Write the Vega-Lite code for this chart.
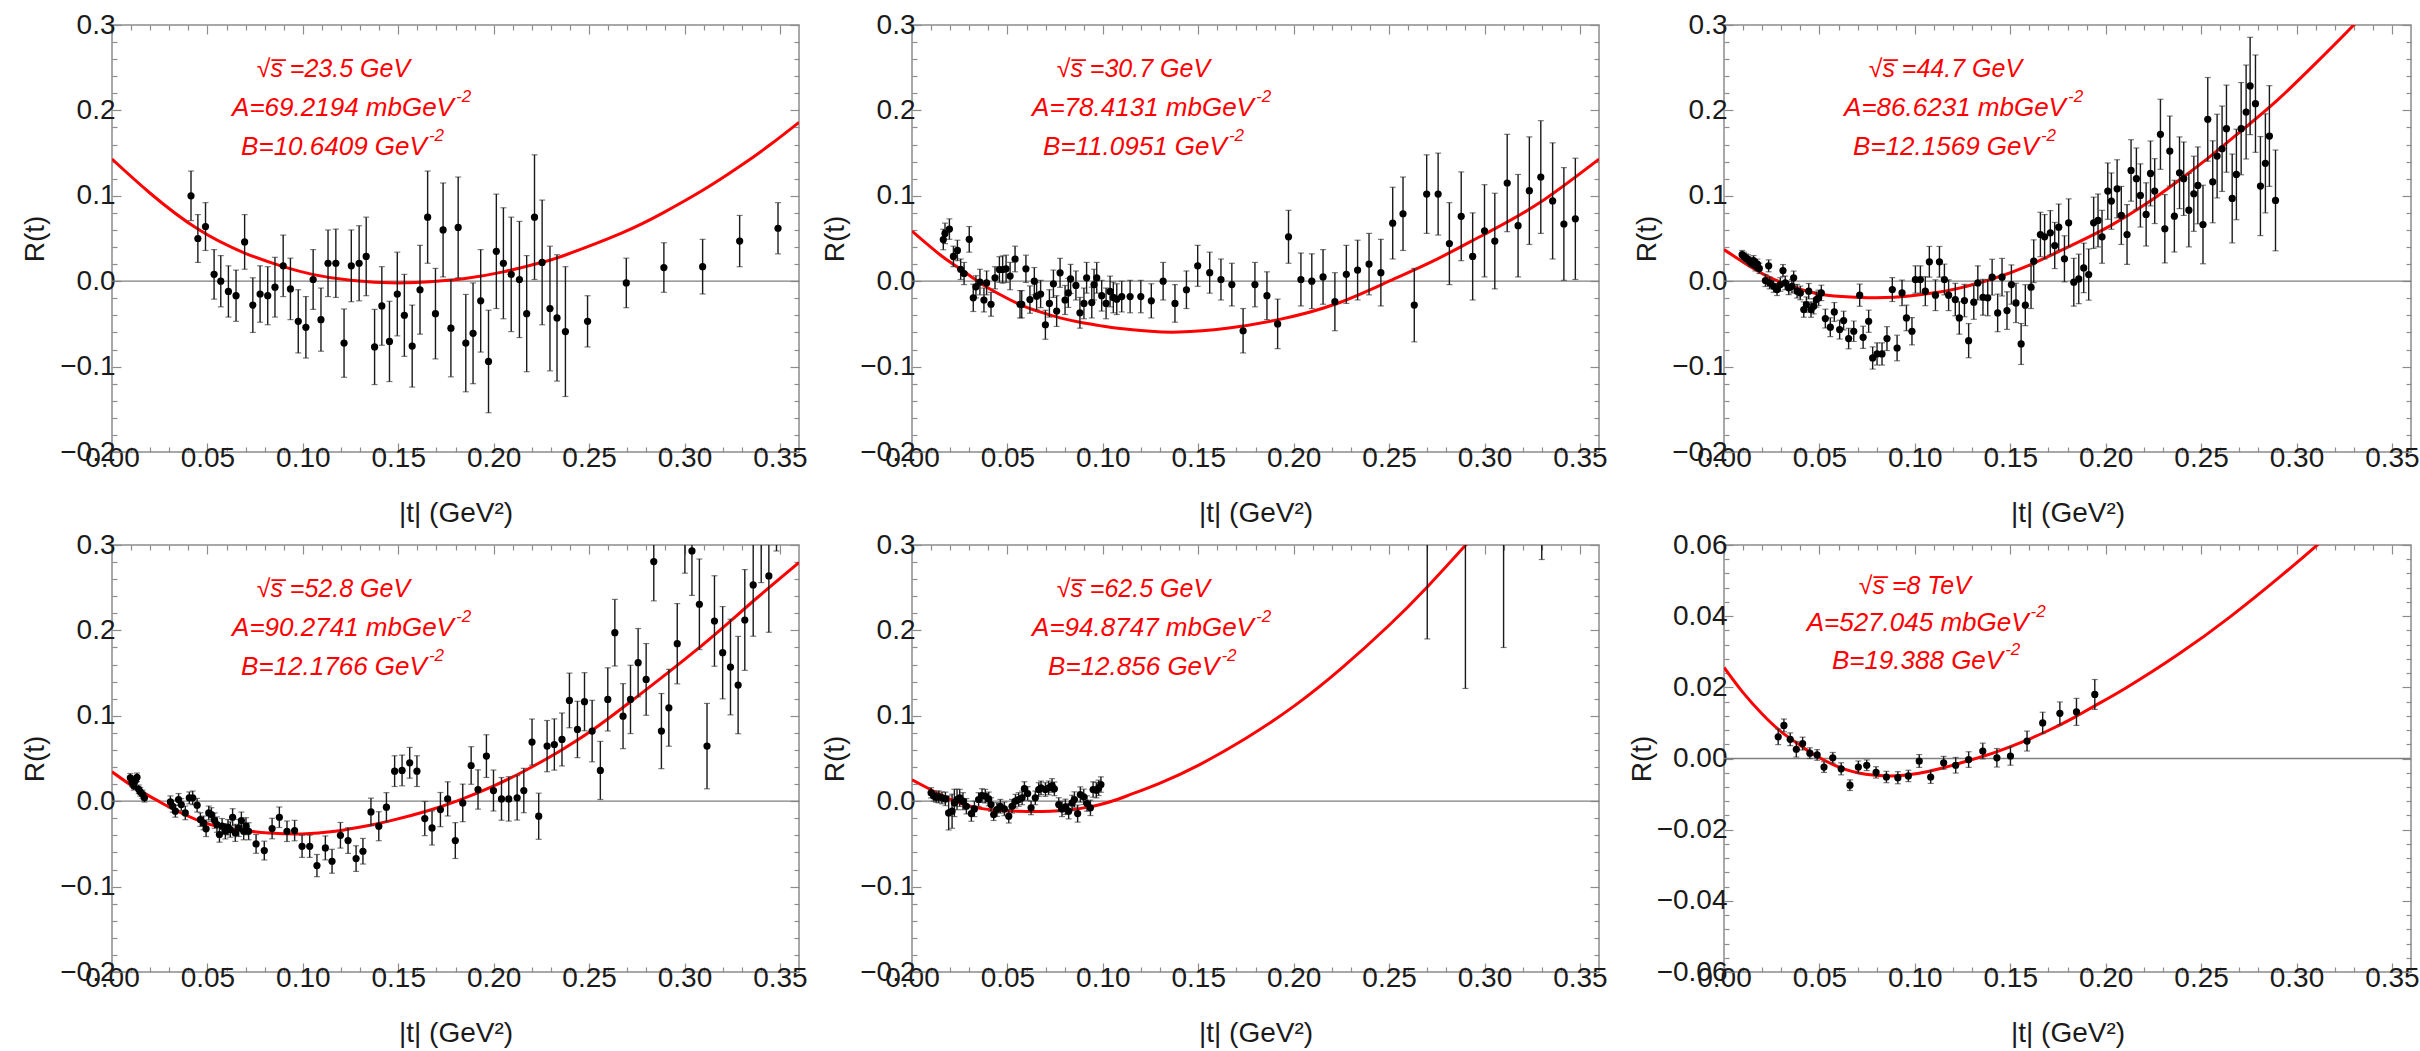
{
"$schema": "https://vega.github.io/schema/vega-lite/v6.json",
"background": "white",
"padding": {"left": 20, "top": 0, "right": 0, "bottom": 3},
"config": {
  "font": "Liberation Sans",
  "view": {"stroke": "#8c8c8c", "strokeWidth": 1.5},
  "axis": {"domain": false, "grid": false, "tickColor": "#8c8c8c", "tickWidth": 1.2, "labelFont": "Liberation Sans", "labelFontSize": 28, "labelColor": "#1a1a1a", "titleFont": "Liberation Sans", "titleFontSize": 28, "titleFontWeight": "normal", "titleColor": "#1a1a1a"},
  "text": {"font": "Liberation Sans", "fontStyle": "italic", "color": "#ff0000", "baseline": "middle"}
},
"datasets": {
"pts": [
{"p":1,"t":0.0414,"r":0.1,"e":0.029},{"p":1,"t":0.045,"r":0.05,"e":0.028},{"p":1,"t":0.049,"r":0.064,"e":0.028},{"p":1,"t":0.0535,"r":0.008,"e":0.029},{"p":1,"t":0.057,"r":0.0,"e":0.03},{"p":1,"t":0.061,"r":-0.012,"e":0.03},{"p":1,"t":0.065,"r":-0.017,"e":0.03},{"p":1,"t":0.0695,"r":0.046,"e":0.032},{"p":1,"t":0.0738,"r":-0.028,"e":0.032},{"p":1,"t":0.0776,"r":-0.015,"e":0.033},{"p":1,"t":0.0816,"r":-0.017,"e":0.034},{"p":1,"t":0.0854,"r":-0.007,"e":0.035},{"p":1,"t":0.0897,"r":0.018,"e":0.036},{"p":1,"t":0.0935,"r":-0.009,"e":0.036},{"p":1,"t":0.0976,"r":-0.047,"e":0.037},{"p":1,"t":0.1016,"r":-0.054,"e":0.036},{"p":1,"t":0.1054,"r":0.002,"e":0.035},{"p":1,"t":0.1095,"r":-0.045,"e":0.037},{"p":1,"t":0.1132,"r":0.021,"e":0.039},{"p":1,"t":0.1173,"r":0.021,"e":0.04},{"p":1,"t":0.1216,"r":-0.0725,"e":0.04},{"p":1,"t":0.1254,"r":0.018,"e":0.042},{"p":1,"t":0.1295,"r":0.021,"e":0.044},{"p":1,"t":0.1332,"r":0.029,"e":0.046},{"p":1,"t":0.1376,"r":-0.077,"e":0.044},{"p":1,"t":0.1414,"r":-0.029,"e":0.046},{"p":1,"t":0.1454,"r":-0.0705,"e":0.047},{"p":1,"t":0.1495,"r":-0.015,"e":0.049},{"p":1,"t":0.1532,"r":-0.04,"e":0.048},{"p":1,"t":0.1573,"r":-0.076,"e":0.048},{"p":1,"t":0.1614,"r":-0.01,"e":0.052},{"p":1,"t":0.1654,"r":0.075,"e":0.054},{"p":1,"t":0.1695,"r":-0.038,"e":0.053},{"p":1,"t":0.1735,"r":0.06,"e":0.055},{"p":1,"t":0.1776,"r":-0.055,"e":0.057},{"p":1,"t":0.1814,"r":0.063,"e":0.059},{"p":1,"t":0.1854,"r":-0.0725,"e":0.057},{"p":1,"t":0.1892,"r":-0.061,"e":0.059},{"p":1,"t":0.1932,"r":-0.023,"e":0.06},{"p":1,"t":0.1973,"r":-0.094,"e":0.06},{"p":1,"t":0.2014,"r":0.035,"e":0.067},{"p":1,"t":0.2051,"r":0.021,"e":0.065},{"p":1,"t":0.2092,"r":0.008,"e":0.067},{"p":1,"t":0.2135,"r":0.002,"e":0.068},{"p":1,"t":0.2173,"r":-0.038,"e":0.068},{"p":1,"t":0.2214,"r":0.075,"e":0.073},{"p":1,"t":0.2254,"r":0.022,"e":0.073},{"p":1,"t":0.2295,"r":-0.032,"e":0.073},{"p":1,"t":0.2332,"r":-0.043,"e":0.074},{"p":1,"t":0.2376,"r":-0.059,"e":0.076},{"p":1,"t":0.2492,"r":-0.047,"e":0.03},{"p":1,"t":0.2695,"r":-0.002,"e":0.029},{"p":1,"t":0.2892,"r":0.016,"e":0.029},{"p":1,"t":0.3095,"r":0.017,"e":0.032},{"p":1,"t":0.3289,"r":0.047,"e":0.03},{"p":1,"t":0.349,"r":0.062,"e":0.03},
{"p":2,"t":0.0164,"r":0.0488,"e":0.012},{"p":2,"t":0.0173,"r":0.056,"e":0.012},{"p":2,"t":0.0196,"r":0.061,"e":0.012},{"p":2,"t":0.0217,"r":0.029,"e":0.012},{"p":2,"t":0.0238,"r":0.036,"e":0.012},{"p":2,"t":0.0255,"r":0.014,"e":0.012},{"p":2,"t":0.0273,"r":0.009,"e":0.013},{"p":2,"t":0.03,"r":0.049,"e":0.015},{"p":2,"t":0.0321,"r":-0.0195,"e":0.016},{"p":2,"t":0.0335,"r":-0.0066,"e":0.013},{"p":2,"t":0.0356,"r":-0.001,"e":0.015},{"p":2,"t":0.0377,"r":-0.022,"e":0.014},{"p":2,"t":0.0391,"r":-0.002,"e":0.014},{"p":2,"t":0.0414,"r":-0.027,"e":0.014},{"p":2,"t":0.0435,"r":0.004,"e":0.013},{"p":2,"t":0.0458,"r":0.0137,"e":0.015},{"p":2,"t":0.0475,"r":0.0137,"e":0.016},{"p":2,"t":0.0493,"r":0.0145,"e":0.016},{"p":2,"t":0.0514,"r":0.006,"e":0.016},{"p":2,"t":0.054,"r":0.026,"e":0.015},{"p":2,"t":0.0566,"r":-0.027,"e":0.016},{"p":2,"t":0.0575,"r":-0.027,"e":0.016},{"p":2,"t":0.0597,"r":0.0145,"e":0.016},{"p":2,"t":0.0618,"r":-0.0215,"e":0.016},{"p":2,"t":0.0641,"r":0.0,"e":0.016},{"p":2,"t":0.0653,"r":-0.0176,"e":0.016},{"p":2,"t":0.0674,"r":-0.015,"e":0.016},{"p":2,"t":0.0699,"r":-0.051,"e":0.017},{"p":2,"t":0.072,"r":-0.026,"e":0.016},{"p":2,"t":0.0741,"r":-0.003,"e":0.016},{"p":2,"t":0.0758,"r":-0.035,"e":0.018},{"p":2,"t":0.0776,"r":0.0098,"e":0.017},{"p":2,"t":0.0802,"r":-0.022,"e":0.017},{"p":2,"t":0.0819,"r":-0.0137,"e":0.017},{"p":2,"t":0.0831,"r":0.0027,"e":0.017},{"p":2,"t":0.0859,"r":-0.005,"e":0.017},{"p":2,"t":0.088,"r":-0.037,"e":0.018},{"p":2,"t":0.0901,"r":-0.026,"e":0.018},{"p":2,"t":0.0915,"r":0.004,"e":0.018},{"p":2,"t":0.0942,"r":-0.025,"e":0.018},{"p":2,"t":0.0954,"r":-0.004,"e":0.018},{"p":2,"t":0.0968,"r":0.004,"e":0.018},{"p":2,"t":0.0994,"r":-0.017,"e":0.018},{"p":2,"t":0.1017,"r":-0.026,"e":0.018},{"p":2,"t":0.1038,"r":-0.012,"e":0.018},{"p":2,"t":0.1055,"r":-0.019,"e":0.018},{"p":2,"t":0.1073,"r":-0.021,"e":0.018},{"p":2,"t":0.1099,"r":-0.018,"e":0.018},{"p":2,"t":0.1143,"r":-0.018,"e":0.019},{"p":2,"t":0.1199,"r":-0.018,"e":0.019},{"p":2,"t":0.1254,"r":-0.023,"e":0.02},{"p":2,"t":0.1316,"r":0.0,"e":0.022},{"p":2,"t":0.1378,"r":-0.026,"e":0.022},{"p":2,"t":0.1438,"r":-0.01,"e":0.022},{"p":2,"t":0.1497,"r":0.018,"e":0.024},{"p":2,"t":0.156,"r":0.01,"e":0.024},{"p":2,"t":0.1619,"r":0.002,"e":0.024},{"p":2,"t":0.1676,"r":-0.004,"e":0.025},{"p":2,"t":0.1735,"r":-0.058,"e":0.026},{"p":2,"t":0.1797,"r":-0.004,"e":0.026},{"p":2,"t":0.186,"r":-0.017,"e":0.028},{"p":2,"t":0.1916,"r":-0.05,"e":0.029},{"p":2,"t":0.1973,"r":0.052,"e":0.031},{"p":2,"t":0.2038,"r":0.002,"e":0.031},{"p":2,"t":0.2095,"r":0.0,"e":0.032},{"p":2,"t":0.2154,"r":0.005,"e":0.032},{"p":2,"t":0.2216,"r":-0.024,"e":0.034},{"p":2,"t":0.2276,"r":0.008,"e":0.034},{"p":2,"t":0.2335,"r":0.013,"e":0.035},{"p":2,"t":0.2395,"r":0.02,"e":0.036},{"p":2,"t":0.2457,"r":0.01,"e":0.039},{"p":2,"t":0.2519,"r":0.068,"e":0.042},{"p":2,"t":0.2573,"r":0.079,"e":0.043},{"p":2,"t":0.2632,"r":-0.028,"e":0.043},{"p":2,"t":0.2697,"r":0.102,"e":0.046},{"p":2,"t":0.2757,"r":0.102,"e":0.048},{"p":2,"t":0.2816,"r":0.044,"e":0.048},{"p":2,"t":0.2878,"r":0.076,"e":0.052},{"p":2,"t":0.2938,"r":0.029,"e":0.051},{"p":2,"t":0.3,"r":0.059,"e":0.054},{"p":2,"t":0.3054,"r":0.047,"e":0.056},{"p":2,"t":0.3119,"r":0.115,"e":0.057},{"p":2,"t":0.3176,"r":0.065,"e":0.06},{"p":2,"t":0.3235,"r":0.106,"e":0.063},{"p":2,"t":0.3295,"r":0.122,"e":0.066},{"p":2,"t":0.3357,"r":0.094,"e":0.068},{"p":2,"t":0.3416,"r":0.067,"e":0.066},{"p":2,"t":0.3476,"r":0.073,"e":0.071},
{"p":3,"t":0.0095,"r":0.031,"e":0.005},{"p":3,"t":0.0105,"r":0.029,"e":0.005},{"p":3,"t":0.0115,"r":0.027,"e":0.005},{"p":3,"t":0.0125,"r":0.026,"e":0.005},{"p":3,"t":0.0135,"r":0.023,"e":0.005},{"p":3,"t":0.0145,"r":0.021,"e":0.005},{"p":3,"t":0.0155,"r":0.024,"e":0.006},{"p":3,"t":0.0165,"r":0.018,"e":0.006},{"p":3,"t":0.0175,"r":0.02,"e":0.006},{"p":3,"t":0.0185,"r":0.015,"e":0.006},{"p":3,"t":0.0217,"r":0.0008,"e":0.007},{"p":3,"t":0.0234,"r":0.018,"e":0.007},{"p":3,"t":0.0239,"r":-0.002,"e":0.007},{"p":3,"t":0.026,"r":-0.006,"e":0.007},{"p":3,"t":0.0278,"r":-0.0098,"e":0.007},{"p":3,"t":0.0295,"r":-0.0039,"e":0.008},{"p":3,"t":0.0309,"r":0.0125,"e":0.007},{"p":3,"t":0.0321,"r":-0.002,"e":0.008},{"p":3,"t":0.0339,"r":-0.0078,"e":0.008},{"p":3,"t":0.0356,"r":-0.0059,"e":0.008},{"p":3,"t":0.0365,"r":0.0039,"e":0.008},{"p":3,"t":0.0383,"r":-0.0117,"e":0.008},{"p":3,"t":0.04,"r":-0.0137,"e":0.008},{"p":3,"t":0.0418,"r":-0.0332,"e":0.009},{"p":3,"t":0.0432,"r":-0.0274,"e":0.009},{"p":3,"t":0.0444,"r":-0.0117,"e":0.009},{"p":3,"t":0.0456,"r":-0.0332,"e":0.009},{"p":3,"t":0.047,"r":-0.0293,"e":0.009},{"p":3,"t":0.0484,"r":-0.0215,"e":0.009},{"p":3,"t":0.0496,"r":-0.0195,"e":0.009},{"p":3,"t":0.051,"r":-0.0137,"e":0.009},{"p":3,"t":0.0531,"r":-0.0438,"e":0.011},{"p":3,"t":0.0557,"r":-0.0539,"e":0.011},{"p":3,"t":0.0578,"r":-0.036,"e":0.011},{"p":3,"t":0.0606,"r":-0.0567,"e":0.011},{"p":3,"t":0.0627,"r":-0.0461,"e":0.011},{"p":3,"t":0.0653,"r":-0.0672,"e":0.012},{"p":3,"t":0.068,"r":-0.0586,"e":0.012},{"p":3,"t":0.0711,"r":-0.0164,"e":0.013},{"p":3,"t":0.0729,"r":-0.0657,"e":0.013},{"p":3,"t":0.0758,"r":-0.0469,"e":0.013},{"p":3,"t":0.0779,"r":-0.0899,"e":0.013},{"p":3,"t":0.0802,"r":-0.0852,"e":0.013},{"p":3,"t":0.0828,"r":-0.0852,"e":0.013},{"p":3,"t":0.0854,"r":-0.0672,"e":0.014},{"p":3,"t":0.0882,"r":-0.0098,"e":0.014},{"p":3,"t":0.0907,"r":-0.0782,"e":0.015},{"p":3,"t":0.0933,"r":-0.0137,"e":0.015},{"p":3,"t":0.0956,"r":-0.043,"e":0.015},{"p":3,"t":0.0985,"r":-0.0586,"e":0.016},{"p":3,"t":0.1003,"r":0.002,"e":0.016},{"p":3,"t":0.1029,"r":0.002,"e":0.016},{"p":3,"t":0.1055,"r":-0.0117,"e":0.017},{"p":3,"t":0.1076,"r":0.0227,"e":0.018},{"p":3,"t":0.1108,"r":-0.0164,"e":0.018},{"p":3,"t":0.1129,"r":0.0227,"e":0.018},{"p":3,"t":0.1155,"r":0.002,"e":0.018},{"p":3,"t":0.1177,"r":-0.0164,"e":0.018},{"p":3,"t":0.1212,"r":-0.0215,"e":0.019},{"p":3,"t":0.1233,"r":-0.043,"e":0.019},{"p":3,"t":0.126,"r":-0.0227,"e":0.019},{"p":3,"t":0.1282,"r":-0.0696,"e":0.02},{"p":3,"t":0.1309,"r":-0.0246,"e":0.02},{"p":3,"t":0.133,"r":-0.002,"e":0.02},{"p":3,"t":0.1357,"r":-0.0188,"e":0.021},{"p":3,"t":0.1382,"r":-0.0195,"e":0.021},{"p":3,"t":0.1405,"r":0.0047,"e":0.021},{"p":3,"t":0.1434,"r":-0.0371,"e":0.022},{"p":3,"t":0.1457,"r":0.0047,"e":0.022},{"p":3,"t":0.1483,"r":-0.0344,"e":0.022},{"p":3,"t":0.1506,"r":-0.0039,"e":0.023},{"p":3,"t":0.153,"r":-0.0254,"e":0.023},{"p":3,"t":0.1557,"r":-0.0735,"e":0.024},{"p":3,"t":0.1579,"r":-0.0281,"e":0.024},{"p":3,"t":0.1609,"r":-0.007,"e":0.025},{"p":3,"t":0.1623,"r":0.0234,"e":0.025},{"p":3,"t":0.1658,"r":0.0547,"e":0.026},{"p":3,"t":0.168,"r":0.052,"e":0.026},{"p":3,"t":0.171,"r":0.0567,"e":0.026},{"p":3,"t":0.1733,"r":0.0418,"e":0.027},{"p":3,"t":0.1754,"r":0.0633,"e":0.027},{"p":3,"t":0.1784,"r":0.0262,"e":0.027},{"p":3,"t":0.1806,"r":0.0684,"e":0.028},{"p":3,"t":0.1833,"r":-0.0012,"e":0.028},{"p":3,"t":0.1859,"r":0.0027,"e":0.029},{"p":3,"t":0.1885,"r":0.0156,"e":0.029},{"p":3,"t":0.1911,"r":0.0078,"e":0.03},{"p":3,"t":0.1937,"r":0.0684,"e":0.03},{"p":3,"t":0.196,"r":0.0711,"e":0.031},{"p":3,"t":0.1981,"r":0.052,"e":0.031},{"p":3,"t":0.2011,"r":0.1055,"e":0.033},{"p":3,"t":0.203,"r":0.0938,"e":0.033},{"p":3,"t":0.206,"r":0.1082,"e":0.034},{"p":3,"t":0.2082,"r":0.077,"e":0.034},{"p":3,"t":0.2112,"r":0.0547,"e":0.035},{"p":3,"t":0.2133,"r":0.1297,"e":0.036},{"p":3,"t":0.2161,"r":0.12,"e":0.036},{"p":3,"t":0.2182,"r":0.1004,"e":0.037},{"p":3,"t":0.2212,"r":0.0782,"e":0.037},{"p":3,"t":0.2235,"r":0.1262,"e":0.038},{"p":3,"t":0.2257,"r":0.1055,"e":0.038},{"p":3,"t":0.2287,"r":0.172,"e":0.041},{"p":3,"t":0.231,"r":0.0614,"e":0.04},{"p":3,"t":0.2336,"r":0.1524,"e":0.041},{"p":3,"t":0.236,"r":0.0762,"e":0.042},{"p":3,"t":0.2387,"r":0.127,"e":0.042},{"p":3,"t":0.2409,"r":0.12,"e":0.043},{"p":3,"t":0.2436,"r":0.0832,"e":0.043},{"p":3,"t":0.2462,"r":0.1024,"e":0.044},{"p":3,"t":0.2483,"r":0.1122,"e":0.045},{"p":3,"t":0.251,"r":0.0664,"e":0.046},{"p":3,"t":0.2535,"r":0.1895,"e":0.049},{"p":3,"t":0.2561,"r":0.1164,"e":0.048},{"p":3,"t":0.2584,"r":0.1465,"e":0.049},{"p":3,"t":0.261,"r":0.1551,"e":0.05},{"p":3,"t":0.2633,"r":0.1786,"e":0.051},{"p":3,"t":0.2663,"r":0.0969,"e":0.052},{"p":3,"t":0.2685,"r":0.125,"e":0.053},{"p":3,"t":0.271,"r":0.1786,"e":0.054},{"p":3,"t":0.2736,"r":0.1981,"e":0.055},{"p":3,"t":0.2757,"r":0.2286,"e":0.057},{"p":3,"t":0.2785,"r":0.2079,"e":0.057},{"p":3,"t":0.2811,"r":0.1114,"e":0.058},{"p":3,"t":0.2837,"r":0.138,"e":0.058},{"p":3,"t":0.2858,"r":0.17,"e":0.059},{"p":3,"t":0.289,"r":0.0946,"e":0.059},
{"p":4,"t":0.0096,"r":0.0274,"e":0.005},{"p":4,"t":0.0105,"r":0.022,"e":0.005},{"p":4,"t":0.0114,"r":0.018,"e":0.005},{"p":4,"t":0.0122,"r":0.024,"e":0.005},{"p":4,"t":0.0131,"r":0.028,"e":0.005},{"p":4,"t":0.014,"r":0.014,"e":0.005},{"p":4,"t":0.0148,"r":0.011,"e":0.005},{"p":4,"t":0.016,"r":0.008,"e":0.005},{"p":4,"t":0.017,"r":0.004,"e":0.005},{"p":4,"t":0.0306,"r":-0.0008,"e":0.007},{"p":4,"t":0.0318,"r":-0.0059,"e":0.007},{"p":4,"t":0.0332,"r":-0.0117,"e":0.007},{"p":4,"t":0.0349,"r":0.002,"e":0.007},{"p":4,"t":0.0363,"r":-0.0039,"e":0.007},{"p":4,"t":0.0384,"r":-0.0137,"e":0.008},{"p":4,"t":0.0405,"r":0.0039,"e":0.007},{"p":4,"t":0.0423,"r":0.0039,"e":0.008},{"p":4,"t":0.0446,"r":-0.0047,"e":0.008},{"p":4,"t":0.0463,"r":-0.0215,"e":0.008},{"p":4,"t":0.048,"r":-0.0254,"e":0.008},{"p":4,"t":0.0493,"r":-0.0324,"e":0.009},{"p":4,"t":0.0507,"r":-0.0137,"e":0.008},{"p":4,"t":0.0521,"r":-0.0156,"e":0.008},{"p":4,"t":0.0538,"r":-0.0227,"e":0.009},{"p":4,"t":0.055,"r":-0.0274,"e":0.009},{"p":4,"t":0.0563,"r":-0.039,"e":0.009},{"p":4,"t":0.0577,"r":-0.0293,"e":0.009},{"p":4,"t":0.0594,"r":-0.0352,"e":0.009},{"p":4,"t":0.0608,"r":-0.0305,"e":0.009},{"p":4,"t":0.062,"r":-0.0332,"e":0.009},{"p":4,"t":0.0632,"r":-0.0188,"e":0.01},{"p":4,"t":0.0646,"r":-0.0371,"e":0.01},{"p":4,"t":0.0664,"r":-0.0313,"e":0.01},{"p":4,"t":0.0678,"r":-0.0227,"e":0.01},{"p":4,"t":0.069,"r":-0.0352,"e":0.01},{"p":4,"t":0.0702,"r":-0.0293,"e":0.01},{"p":4,"t":0.0716,"r":-0.0352,"e":0.01},{"p":4,"t":0.0755,"r":-0.05,"e":0.011},{"p":4,"t":0.0798,"r":-0.0578,"e":0.011},{"p":4,"t":0.0839,"r":-0.032,"e":0.012},{"p":4,"t":0.0877,"r":-0.0188,"e":0.012},{"p":4,"t":0.0917,"r":-0.0352,"e":0.012},{"p":4,"t":0.0957,"r":-0.0344,"e":0.012},{"p":4,"t":0.0996,"r":-0.0528,"e":0.013},{"p":4,"t":0.1036,"r":-0.0528,"e":0.013},{"p":4,"t":0.1074,"r":-0.0754,"e":0.013},{"p":4,"t":0.1118,"r":-0.0547,"e":0.014},{"p":4,"t":0.1153,"r":-0.0703,"e":0.014},{"p":4,"t":0.1197,"r":-0.0399,"e":0.015},{"p":4,"t":0.1237,"r":-0.0461,"e":0.015},{"p":4,"t":0.1279,"r":-0.0672,"e":0.015},{"p":4,"t":0.1315,"r":-0.0586,"e":0.015},{"p":4,"t":0.1357,"r":-0.0125,"e":0.016},{"p":4,"t":0.1398,"r":-0.0293,"e":0.017},{"p":4,"t":0.1438,"r":-0.007,"e":0.017},{"p":4,"t":0.1481,"r":0.0352,"e":0.018},{"p":4,"t":0.152,"r":0.036,"e":0.018},{"p":4,"t":0.156,"r":0.045,"e":0.018},{"p":4,"t":0.1598,"r":0.0352,"e":0.018},{"p":4,"t":0.1639,"r":-0.0203,"e":0.02},{"p":4,"t":0.1677,"r":-0.0313,"e":0.02},{"p":4,"t":0.1721,"r":-0.0098,"e":0.02},{"p":4,"t":0.1759,"r":0.0027,"e":0.02},{"p":4,"t":0.1799,"r":-0.0461,"e":0.021},{"p":4,"t":0.1838,"r":-0.002,"e":0.022},{"p":4,"t":0.1882,"r":0.0418,"e":0.022},{"p":4,"t":0.1918,"r":0.0137,"e":0.023},{"p":4,"t":0.1962,"r":0.0528,"e":0.025},{"p":4,"t":0.1999,"r":0.0125,"e":0.024},{"p":4,"t":0.2041,"r":0.0027,"e":0.025},{"p":4,"t":0.2079,"r":0.0027,"e":0.026},{"p":4,"t":0.2123,"r":0.0039,"e":0.026},{"p":4,"t":0.2158,"r":0.0125,"e":0.026},{"p":4,"t":0.2201,"r":0.0692,"e":0.027},{"p":4,"t":0.2236,"r":-0.0176,"e":0.027},{"p":4,"t":0.228,"r":0.0645,"e":0.03},{"p":4,"t":0.2318,"r":0.0664,"e":0.03},{"p":4,"t":0.2358,"r":0.0723,"e":0.031},{"p":4,"t":0.2397,"r":0.118,"e":0.032},{"p":4,"t":0.2439,"r":0.084,"e":0.033},{"p":4,"t":0.2476,"r":0.1165,"e":0.034},{"p":4,"t":0.2516,"r":0.0821,"e":0.036},{"p":4,"t":0.2559,"r":0.036,"e":0.034},{"p":4,"t":0.2598,"r":0.1192,"e":0.037},{"p":4,"t":0.2635,"r":0.1973,"e":0.039},{"p":4,"t":0.2678,"r":0.0996,"e":0.038},{"p":4,"t":0.2717,"r":0.1192,"e":0.04},{"p":4,"t":0.2757,"r":0.1622,"e":0.04},{"p":4,"t":0.2799,"r":0.1426,"e":0.042},{"p":4,"t":0.2839,"r":0.2806,"e":0.046},{"p":4,"t":0.2879,"r":0.0821,"e":0.044},{"p":4,"t":0.2918,"r":0.1094,"e":0.045},{"p":4,"t":0.2962,"r":0.1844,"e":0.047},{"p":4,"t":0.3002,"r":0.33,"e":0.063},{"p":4,"t":0.3039,"r":0.293,"e":0.052},{"p":4,"t":0.3078,"r":0.2306,"e":0.053},{"p":4,"t":0.3118,"r":0.0645,"e":0.05},{"p":4,"t":0.3157,"r":0.211,"e":0.053},{"p":4,"t":0.32,"r":0.1739,"e":0.054},{"p":4,"t":0.3241,"r":0.1571,"e":0.056},{"p":4,"t":0.3281,"r":0.136,"e":0.057},{"p":4,"t":0.3316,"r":0.2122,"e":0.059},{"p":4,"t":0.336,"r":0.2532,"e":0.06},{"p":4,"t":0.3402,"r":0.33,"e":0.074},{"p":4,"t":0.3442,"r":0.2638,"e":0.066},{"p":4,"t":0.3482,"r":0.37,"e":0.077},
{"p":5,"t":0.01,"r":0.0098,"e":0.006},{"p":5,"t":0.0114,"r":0.006,"e":0.006},{"p":5,"t":0.0127,"r":0.0047,"e":0.006},{"p":5,"t":0.014,"r":0.0051,"e":0.007},{"p":5,"t":0.0157,"r":0.0039,"e":0.007},{"p":5,"t":0.0175,"r":0.0027,"e":0.008},{"p":5,"t":0.0192,"r":-0.0137,"e":0.02},{"p":5,"t":0.021,"r":-0.0117,"e":0.02},{"p":5,"t":0.0222,"r":-0.002,"e":0.016},{"p":5,"t":0.0236,"r":0.002,"e":0.012},{"p":5,"t":0.025,"r":0.0039,"e":0.01},{"p":5,"t":0.0267,"r":0.0,"e":0.01},{"p":5,"t":0.0285,"r":-0.0059,"e":0.009},{"p":5,"t":0.0311,"r":-0.0145,"e":0.009},{"p":5,"t":0.0327,"r":-0.009,"e":0.009},{"p":5,"t":0.0349,"r":0.002,"e":0.008},{"p":5,"t":0.0367,"r":0.0066,"e":0.008},{"p":5,"t":0.0384,"r":0.0059,"e":0.008},{"p":5,"t":0.0402,"r":0.0027,"e":0.008},{"p":5,"t":0.0414,"r":-0.0039,"e":0.008},{"p":5,"t":0.0428,"r":-0.0156,"e":0.007},{"p":5,"t":0.0445,"r":-0.0098,"e":0.008},{"p":5,"t":0.0463,"r":-0.0059,"e":0.008},{"p":5,"t":0.0484,"r":-0.009,"e":0.008},{"p":5,"t":0.0507,"r":-0.0176,"e":0.008},{"p":5,"t":0.0524,"r":-0.0059,"e":0.008},{"p":5,"t":0.0542,"r":0.0,"e":0.008},{"p":5,"t":0.0559,"r":0.002,"e":0.008},{"p":5,"t":0.0577,"r":0.0039,"e":0.008},{"p":5,"t":0.0589,"r":0.0148,"e":0.008},{"p":5,"t":0.0606,"r":0.009,"e":0.008},{"p":5,"t":0.0624,"r":-0.0078,"e":0.008},{"p":5,"t":0.0646,"r":0.0039,"e":0.008},{"p":5,"t":0.0664,"r":0.0137,"e":0.008},{"p":5,"t":0.0676,"r":0.0156,"e":0.008},{"p":5,"t":0.0699,"r":0.0137,"e":0.008},{"p":5,"t":0.0716,"r":0.0156,"e":0.008},{"p":5,"t":0.0734,"r":0.0184,"e":0.008},{"p":5,"t":0.0746,"r":0.0145,"e":0.008},{"p":5,"t":0.0769,"r":-0.0039,"e":0.008},{"p":5,"t":0.0786,"r":-0.009,"e":0.009},{"p":5,"t":0.0804,"r":-0.0066,"e":0.009},{"p":5,"t":0.0821,"r":-0.0117,"e":0.009},{"p":5,"t":0.0839,"r":-0.002,"e":0.009},{"p":5,"t":0.0851,"r":0.002,"e":0.009},{"p":5,"t":0.0868,"r":-0.0145,"e":0.01},{"p":5,"t":0.0882,"r":0.0078,"e":0.009},{"p":5,"t":0.09,"r":0.0051,"e":0.009},{"p":5,"t":0.0917,"r":-0.0027,"e":0.009},{"p":5,"t":0.0935,"r":-0.0078,"e":0.009},{"p":5,"t":0.0949,"r":0.0137,"e":0.009},{"p":5,"t":0.0966,"r":0.0129,"e":0.009},{"p":5,"t":0.0978,"r":0.0156,"e":0.009},{"p":5,"t":0.099,"r":0.0195,"e":0.009},{"p":5,"t":0.27,"r":0.4,"e":0.21},{"p":5,"t":0.29,"r":0.45,"e":0.318},{"p":5,"t":0.31,"r":0.5,"e":0.32},{"p":5,"t":0.33,"r":0.55,"e":0.267},
{"p":6,"t":0.0284,"r":0.0061,"e":0.0022},{"p":6,"t":0.0314,"r":0.0093,"e":0.0018},{"p":6,"t":0.0347,"r":0.0054,"e":0.0018},{"p":6,"t":0.0379,"r":0.0026,"e":0.0022},{"p":6,"t":0.0412,"r":0.0042,"e":0.0018},{"p":6,"t":0.045,"r":0.0015,"e":0.0015},{"p":6,"t":0.0488,"r":0.001,"e":0.0015},{"p":6,"t":0.0524,"r":-0.0024,"e":0.0015},{"p":6,"t":0.057,"r":0.0002,"e":0.0015},{"p":6,"t":0.0614,"r":-0.0029,"e":0.0017},{"p":6,"t":0.066,"r":-0.0075,"e":0.0015},{"p":6,"t":0.0704,"r":-0.0024,"e":0.0017},{"p":6,"t":0.0748,"r":-0.0019,"e":0.0015},{"p":6,"t":0.0797,"r":-0.0039,"e":0.0016},{"p":6,"t":0.0851,"r":-0.0052,"e":0.0016},{"p":6,"t":0.0911,"r":-0.0054,"e":0.0017},{"p":6,"t":0.0966,"r":-0.0049,"e":0.0016},{"p":6,"t":0.1023,"r":-0.0007,"e":0.0018},{"p":6,"t":0.1083,"r":-0.0052,"e":0.0018},{"p":6,"t":0.1151,"r":-0.0012,"e":0.0018},{"p":6,"t":0.1214,"r":-0.0019,"e":0.0022},{"p":6,"t":0.1282,"r":-0.0003,"e":0.0022},{"p":6,"t":0.1356,"r":0.0021,"e":0.0022},{"p":6,"t":0.143,"r":0.0002,"e":0.0026},{"p":6,"t":0.1501,"r":0.0007,"e":0.0026},{"p":6,"t":0.1588,"r":0.0049,"e":0.0028},{"p":6,"t":0.167,"r":0.01,"e":0.003},{"p":6,"t":0.176,"r":0.0127,"e":0.0032},{"p":6,"t":0.1847,"r":0.0131,"e":0.0038},{"p":6,"t":0.1943,"r":0.018,"e":0.0042}
],
"fit": [
{"p":1,"t":0,"r":0.143},{"p":1,"t":0.02,"r":0.103},{"p":1,"t":0.045,"r":0.061},{"p":1,"t":0.0695,"r":0.033},{"p":1,"t":0.0897,"r":0.017},{"p":1,"t":0.105,"r":0.008},{"p":1,"t":0.125,"r":0.001},{"p":1,"t":0.15,"r":-0.002},{"p":1,"t":0.17,"r":0.0},{"p":1,"t":0.185,"r":0.0032},{"p":1,"t":0.205,"r":0.0109},{"p":1,"t":0.2254,"r":0.0222},{"p":1,"t":0.2376,"r":0.0307},{"p":1,"t":0.267,"r":0.0563},{"p":1,"t":0.289,"r":0.0803},{"p":1,"t":0.31,"r":0.107},{"p":1,"t":0.329,"r":0.1345},{"p":1,"t":0.345,"r":0.16},{"p":1,"t":0.36,"r":0.186},
{"p":2,"t":0,"r":0.0587},{"p":2,"t":0.0147,"r":0.031},{"p":2,"t":0.0252,"r":0.0145},{"p":2,"t":0.0357,"r":-0.002},{"p":2,"t":0.0461,"r":-0.0156},{"p":2,"t":0.0566,"r":-0.0274},{"p":2,"t":0.0671,"r":-0.036},{"p":2,"t":0.0776,"r":-0.043},{"p":2,"t":0.088,"r":-0.048},{"p":2,"t":0.0985,"r":-0.052},{"p":2,"t":0.109,"r":-0.0555},{"p":2,"t":0.125,"r":-0.0586},{"p":2,"t":0.14,"r":-0.0595},{"p":2,"t":0.165,"r":-0.055},{"p":2,"t":0.192,"r":-0.045},{"p":2,"t":0.2216,"r":-0.027},{"p":2,"t":0.25,"r":0.0},{"p":2,"t":0.2735,"r":0.024},{"p":2,"t":0.3,"r":0.055},{"p":2,"t":0.3276,"r":0.09},{"p":2,"t":0.36,"r":0.143},
{"p":3,"t":0,"r":0.037},{"p":3,"t":0.012,"r":0.0195},{"p":3,"t":0.0225,"r":0.006},{"p":3,"t":0.033,"r":-0.004},{"p":3,"t":0.0435,"r":-0.0117},{"p":3,"t":0.054,"r":-0.0164},{"p":3,"t":0.0715,"r":-0.019},{"p":3,"t":0.089,"r":-0.0188},{"p":3,"t":0.1064,"r":-0.0148},{"p":3,"t":0.1239,"r":-0.0078},{"p":3,"t":0.1413,"r":0.0031},{"p":3,"t":0.1588,"r":0.0176},{"p":3,"t":0.1859,"r":0.046},{"p":3,"t":0.2033,"r":0.066},{"p":3,"t":0.2208,"r":0.09},{"p":3,"t":0.2383,"r":0.118},{"p":3,"t":0.2558,"r":0.148},{"p":3,"t":0.2732,"r":0.18},{"p":3,"t":0.29,"r":0.212},{"p":3,"t":0.31,"r":0.255},{"p":3,"t":0.33,"r":0.3},{"p":3,"t":0.34,"r":0.325},
{"p":4,"t":0,"r":0.0344},{"p":4,"t":0.0122,"r":0.0156},{"p":4,"t":0.0236,"r":0.001},{"p":4,"t":0.0297,"r":-0.0065},{"p":4,"t":0.0472,"r":-0.0242},{"p":4,"t":0.0646,"r":-0.0332},{"p":4,"t":0.0821,"r":-0.0371},{"p":4,"t":0.0996,"r":-0.0383},{"p":4,"t":0.117,"r":-0.0352},{"p":4,"t":0.1345,"r":-0.0285},{"p":4,"t":0.1467,"r":-0.0225},{"p":4,"t":0.1642,"r":-0.012},{"p":4,"t":0.1817,"r":0.001},{"p":4,"t":0.1992,"r":0.017},{"p":4,"t":0.2166,"r":0.036},{"p":4,"t":0.2341,"r":0.058},{"p":4,"t":0.2516,"r":0.083},{"p":4,"t":0.2691,"r":0.112},{"p":4,"t":0.2865,"r":0.142},{"p":4,"t":0.304,"r":0.173},{"p":4,"t":0.3215,"r":0.206},{"p":4,"t":0.339,"r":0.24},{"p":4,"t":0.36,"r":0.2794},
{"p":5,"t":0,"r":0.025},{"p":5,"t":0.0114,"r":0.0117},{"p":5,"t":0.0201,"r":0.002},{"p":5,"t":0.0288,"r":-0.005},{"p":5,"t":0.0376,"r":-0.009},{"p":5,"t":0.0463,"r":-0.011},{"p":5,"t":0.055,"r":-0.0117},{"p":5,"t":0.0638,"r":-0.012},{"p":5,"t":0.0725,"r":-0.0117},{"p":5,"t":0.0813,"r":-0.0105},{"p":5,"t":0.09,"r":-0.0078},{"p":5,"t":0.0987,"r":-0.0039},{"p":5,"t":0.1075,"r":0.002},{"p":5,"t":0.115,"r":0.0082},{"p":5,"t":0.13,"r":0.0212},{"p":5,"t":0.15,"r":0.042},{"p":5,"t":0.175,"r":0.0737},{"p":5,"t":0.2,"r":0.111},{"p":5,"t":0.225,"r":0.1555},{"p":5,"t":0.25,"r":0.206},{"p":5,"t":0.27,"r":0.2509},{"p":5,"t":0.29,"r":0.2996},{"p":5,"t":0.3,"r":0.325},
{"p":6,"t":0,"r":0.0256},{"p":6,"t":0.01,"r":0.0185},{"p":6,"t":0.02,"r":0.0125},{"p":6,"t":0.03,"r":0.0075},{"p":6,"t":0.04,"r":0.0037},{"p":6,"t":0.0469,"r":0.0012},{"p":6,"t":0.0606,"r":-0.0025},{"p":6,"t":0.0742,"r":-0.0044},{"p":6,"t":0.0879,"r":-0.0049},{"p":6,"t":0.1015,"r":-0.0042},{"p":6,"t":0.1151,"r":-0.0026},{"p":6,"t":0.1288,"r":-0.0005},{"p":6,"t":0.1424,"r":0.0018},{"p":6,"t":0.1561,"r":0.0046},{"p":6,"t":0.1697,"r":0.0078},{"p":6,"t":0.1834,"r":0.0115},{"p":6,"t":0.1943,"r":0.0148},{"p":6,"t":0.2106,"r":0.0198},{"p":6,"t":0.2379,"r":0.0292},{"p":6,"t":0.2652,"r":0.0398},{"p":6,"t":0.2925,"r":0.0516},{"p":6,"t":0.313,"r":0.061},{"p":6,"t":0.325,"r":0.067}
]
},
"columns": 3,
"align": "each",
"spacing": {"row": -12, "column": 12},
"concat": [
{"width": 687, "height": 427,
 "resolve": {"axis": {"x": "independent", "y": "independent"}},
 "layer": [
  {"data": {"values": [{}]}, "mark": {"type": "rule", "color": "#7f7f7f", "strokeWidth": 1.3}, "encoding": {"y": {"datum": 0, "type": "quantitative", "scale": {"domain": [-0.2, 0.3], "nice": false, "zero": false}, "axis": null}}},
  {"data": {"name": "fit"}, "transform": [{"filter": "datum.p == 1"}], "mark": {"type": "line", "color": "#ff0000", "strokeWidth": 3, "interpolate": "natural", "clip": true},
   "encoding": {
    "x": {"field": "t", "type": "quantitative", "scale": {"domain": [0, 0.36], "nice": false, "zero": false}, "axis": {"orient": "bottom", "values": [0,0.01,0.02,0.03,0.04,0.05,0.06,0.07,0.08,0.09,0.1,0.11,0.12,0.13,0.14,0.15,0.16,0.17,0.18,0.19,0.2,0.21,0.22,0.23,0.24,0.25,0.26,0.27,0.28,0.29,0.3,0.31,0.32,0.33,0.34,0.35], "format": ".2f", "labelExpr": "abs(datum.value*20-round(datum.value*20))<0.001 ? datum.label : ''", "tickSize": {"condition": {"test": "abs(datum.value*20-round(datum.value*20))<0.001", "value": -9}, "value": -5}, "labelPadding": 1, "labelOverlap": false, "labelFlush": false, "title": "|t|  (GeV²)", "titlePadding": 23}},
    "y": {"field": "r", "type": "quantitative", "scale": {"domain": [-0.2, 0.3], "nice": false, "zero": false}, "axis": {"orient": "left", "values": [-0.2,-0.18,-0.16,-0.14,-0.12,-0.1,-0.08,-0.06,-0.04,-0.02,0,0.02,0.04,0.06,0.08,0.1,0.12,0.14,0.16,0.18,0.2,0.22,0.24,0.26,0.28,0.3], "format": ".1f", "labelExpr": "abs(datum.value*10-round(datum.value*10))<0.001 ? datum.label : ''", "tickSize": {"condition": {"test": "abs(datum.value*10-round(datum.value*10))<0.001", "value": -9}, "value": -5}, "labelPadding": 6, "labelOverlap": false, "labelFlush": false, "title": "R(t)", "titlePadding": 10}}}},
  {"data": {"name": "fit"}, "transform": [{"filter": "datum.p == 1"}], "mark": {"type": "point", "opacity": 0},
   "encoding": {
    "x": {"field": "t", "type": "quantitative", "scale": {"domain": [0, 0.36], "nice": false, "zero": false}, "axis": {"orient": "top", "values": [0,0.01,0.02,0.03,0.04,0.05,0.06,0.07,0.08,0.09,0.1,0.11,0.12,0.13,0.14,0.15,0.16,0.17,0.18,0.19,0.2,0.21,0.22,0.23,0.24,0.25,0.26,0.27,0.28,0.29,0.3,0.31,0.32,0.33,0.34,0.35], "labels": false, "title": null, "tickSize": {"condition": {"test": "abs(datum.value*20-round(datum.value*20))<0.001", "value": -9}, "value": -5}}},
    "y": {"field": "r", "type": "quantitative", "scale": {"domain": [-0.2, 0.3], "nice": false, "zero": false}, "axis": {"orient": "right", "values": [-0.2,-0.18,-0.16,-0.14,-0.12,-0.1,-0.08,-0.06,-0.04,-0.02,0,0.02,0.04,0.06,0.08,0.1,0.12,0.14,0.16,0.18,0.2,0.22,0.24,0.26,0.28,0.3], "labels": false, "title": null, "tickSize": {"condition": {"test": "abs(datum.value*10-round(datum.value*10))<0.001", "value": -9}, "value": -5}}}}},
  {"data": {"name": "pts"}, "transform": [{"filter": "datum.p == 1"}], "mark": {"type": "errorbar", "clip": true, "ticks": {"size": 6, "thickness": 1.2, "color": "#444444", "clip": true}, "rule": {"color": "#1a1a1a", "strokeWidth": 1.4, "clip": true}},
   "encoding": {"x": {"field": "t", "type": "quantitative", "scale": {"domain": [0, 0.36], "nice": false, "zero": false}, "axis": null}, "y": {"field": "r", "type": "quantitative", "scale": {"domain": [-0.2, 0.3], "nice": false, "zero": false}, "axis": null}, "yError": {"field": "e"}}},
  {"data": {"name": "pts"}, "transform": [{"filter": "datum.p == 1"}], "mark": {"type": "circle", "size": 52, "color": "#000000", "opacity": 1, "clip": true},
   "encoding": {"x": {"field": "t", "type": "quantitative", "scale": {"domain": [0, 0.36], "nice": false, "zero": false}, "axis": null}, "y": {"field": "r", "type": "quantitative", "scale": {"domain": [-0.2, 0.3], "nice": false, "zero": false}, "axis": null}}},
  {"data": {"values": [{}]}, "mark": {"type": "text", "text": "√s̅ =23.5 GeV", "fontSize": 25, "align": "center"}, "encoding": {"x": {"datum": 0.116, "type": "quantitative", "axis": null}, "y": {"datum": 0.249, "type": "quantitative", "axis": null}}},
  {"data": {"values": [{}]}, "mark": {"type": "text", "text": "A=69.2194 mbGeV", "fontSize": 26, "align": "right"}, "encoding": {"x": {"datum": 0.1792, "type": "quantitative", "axis": null}, "y": {"datum": 0.203, "type": "quantitative", "axis": null}}},
  {"data": {"values": [{}]}, "mark": {"type": "text", "text": "-2", "fontSize": 17, "align": "left", "dx": 2, "dy": -11}, "encoding": {"x": {"datum": 0.1792, "type": "quantitative", "axis": null}, "y": {"datum": 0.203, "type": "quantitative", "axis": null}}},
  {"data": {"values": [{}]}, "mark": {"type": "text", "text": "B=10.6409 GeV", "fontSize": 26, "align": "right"}, "encoding": {"x": {"datum": 0.165, "type": "quantitative", "axis": null}, "y": {"datum": 0.157, "type": "quantitative", "axis": null}}},
  {"data": {"values": [{}]}, "mark": {"type": "text", "text": "-2", "fontSize": 17, "align": "left", "dx": 2, "dy": -11}, "encoding": {"x": {"datum": 0.165, "type": "quantitative", "axis": null}, "y": {"datum": 0.157, "type": "quantitative", "axis": null}}}
 ]},
{"width": 687, "height": 427,
 "resolve": {"axis": {"x": "independent", "y": "independent"}},
 "layer": [
  {"data": {"values": [{}]}, "mark": {"type": "rule", "color": "#7f7f7f", "strokeWidth": 1.3}, "encoding": {"y": {"datum": 0, "type": "quantitative", "scale": {"domain": [-0.2, 0.3], "nice": false, "zero": false}, "axis": null}}},
  {"data": {"name": "fit"}, "transform": [{"filter": "datum.p == 2"}], "mark": {"type": "line", "color": "#ff0000", "strokeWidth": 3, "interpolate": "natural", "clip": true},
   "encoding": {
    "x": {"field": "t", "type": "quantitative", "scale": {"domain": [0, 0.36], "nice": false, "zero": false}, "axis": {"orient": "bottom", "values": [0,0.01,0.02,0.03,0.04,0.05,0.06,0.07,0.08,0.09,0.1,0.11,0.12,0.13,0.14,0.15,0.16,0.17,0.18,0.19,0.2,0.21,0.22,0.23,0.24,0.25,0.26,0.27,0.28,0.29,0.3,0.31,0.32,0.33,0.34,0.35], "format": ".2f", "labelExpr": "abs(datum.value*20-round(datum.value*20))<0.001 ? datum.label : ''", "tickSize": {"condition": {"test": "abs(datum.value*20-round(datum.value*20))<0.001", "value": -9}, "value": -5}, "labelPadding": 1, "labelOverlap": false, "labelFlush": false, "title": "|t|  (GeV²)", "titlePadding": 23}},
    "y": {"field": "r", "type": "quantitative", "scale": {"domain": [-0.2, 0.3], "nice": false, "zero": false}, "axis": {"orient": "left", "values": [-0.2,-0.18,-0.16,-0.14,-0.12,-0.1,-0.08,-0.06,-0.04,-0.02,0,0.02,0.04,0.06,0.08,0.1,0.12,0.14,0.16,0.18,0.2,0.22,0.24,0.26,0.28,0.3], "format": ".1f", "labelExpr": "abs(datum.value*10-round(datum.value*10))<0.001 ? datum.label : ''", "tickSize": {"condition": {"test": "abs(datum.value*10-round(datum.value*10))<0.001", "value": -9}, "value": -5}, "labelPadding": 6, "labelOverlap": false, "labelFlush": false, "title": "R(t)", "titlePadding": 10}}}},
  {"data": {"name": "fit"}, "transform": [{"filter": "datum.p == 2"}], "mark": {"type": "point", "opacity": 0},
   "encoding": {
    "x": {"field": "t", "type": "quantitative", "scale": {"domain": [0, 0.36], "nice": false, "zero": false}, "axis": {"orient": "top", "values": [0,0.01,0.02,0.03,0.04,0.05,0.06,0.07,0.08,0.09,0.1,0.11,0.12,0.13,0.14,0.15,0.16,0.17,0.18,0.19,0.2,0.21,0.22,0.23,0.24,0.25,0.26,0.27,0.28,0.29,0.3,0.31,0.32,0.33,0.34,0.35], "labels": false, "title": null, "tickSize": {"condition": {"test": "abs(datum.value*20-round(datum.value*20))<0.001", "value": -9}, "value": -5}}},
    "y": {"field": "r", "type": "quantitative", "scale": {"domain": [-0.2, 0.3], "nice": false, "zero": false}, "axis": {"orient": "right", "values": [-0.2,-0.18,-0.16,-0.14,-0.12,-0.1,-0.08,-0.06,-0.04,-0.02,0,0.02,0.04,0.06,0.08,0.1,0.12,0.14,0.16,0.18,0.2,0.22,0.24,0.26,0.28,0.3], "labels": false, "title": "R(t)", "titleOpacity": 0, "titleFontSize": 10, "titlePadding": 4, "minExtent": 0, "tickSize": {"condition": {"test": "abs(datum.value*10-round(datum.value*10))<0.001", "value": -9}, "value": -5}}}}},
  {"data": {"name": "pts"}, "transform": [{"filter": "datum.p == 2"}], "mark": {"type": "errorbar", "clip": true, "ticks": {"size": 6, "thickness": 1.2, "color": "#444444", "clip": true}, "rule": {"color": "#1a1a1a", "strokeWidth": 1.4, "clip": true}},
   "encoding": {"x": {"field": "t", "type": "quantitative", "scale": {"domain": [0, 0.36], "nice": false, "zero": false}, "axis": null}, "y": {"field": "r", "type": "quantitative", "scale": {"domain": [-0.2, 0.3], "nice": false, "zero": false}, "axis": null}, "yError": {"field": "e"}}},
  {"data": {"name": "pts"}, "transform": [{"filter": "datum.p == 2"}], "mark": {"type": "circle", "size": 52, "color": "#000000", "opacity": 1, "clip": true},
   "encoding": {"x": {"field": "t", "type": "quantitative", "scale": {"domain": [0, 0.36], "nice": false, "zero": false}, "axis": null}, "y": {"field": "r", "type": "quantitative", "scale": {"domain": [-0.2, 0.3], "nice": false, "zero": false}, "axis": null}}},
  {"data": {"values": [{}]}, "mark": {"type": "text", "text": "√s̅ =30.7 GeV", "fontSize": 25, "align": "center"}, "encoding": {"x": {"datum": 0.116, "type": "quantitative", "axis": null}, "y": {"datum": 0.249, "type": "quantitative", "axis": null}}},
  {"data": {"values": [{}]}, "mark": {"type": "text", "text": "A=78.4131 mbGeV", "fontSize": 26, "align": "right"}, "encoding": {"x": {"datum": 0.1792, "type": "quantitative", "axis": null}, "y": {"datum": 0.203, "type": "quantitative", "axis": null}}},
  {"data": {"values": [{}]}, "mark": {"type": "text", "text": "-2", "fontSize": 17, "align": "left", "dx": 2, "dy": -11}, "encoding": {"x": {"datum": 0.1792, "type": "quantitative", "axis": null}, "y": {"datum": 0.203, "type": "quantitative", "axis": null}}},
  {"data": {"values": [{}]}, "mark": {"type": "text", "text": "B=11.0951 GeV", "fontSize": 26, "align": "right"}, "encoding": {"x": {"datum": 0.165, "type": "quantitative", "axis": null}, "y": {"datum": 0.157, "type": "quantitative", "axis": null}}},
  {"data": {"values": [{}]}, "mark": {"type": "text", "text": "-2", "fontSize": 17, "align": "left", "dx": 2, "dy": -11}, "encoding": {"x": {"datum": 0.165, "type": "quantitative", "axis": null}, "y": {"datum": 0.157, "type": "quantitative", "axis": null}}}
 ]},
{"width": 687, "height": 427,
 "resolve": {"axis": {"x": "independent", "y": "independent"}},
 "layer": [
  {"data": {"values": [{}]}, "mark": {"type": "rule", "color": "#7f7f7f", "strokeWidth": 1.3}, "encoding": {"y": {"datum": 0, "type": "quantitative", "scale": {"domain": [-0.2, 0.3], "nice": false, "zero": false}, "axis": null}}},
  {"data": {"name": "fit"}, "transform": [{"filter": "datum.p == 3"}], "mark": {"type": "line", "color": "#ff0000", "strokeWidth": 3, "interpolate": "natural", "clip": true},
   "encoding": {
    "x": {"field": "t", "type": "quantitative", "scale": {"domain": [0, 0.36], "nice": false, "zero": false}, "axis": {"orient": "bottom", "values": [0,0.01,0.02,0.03,0.04,0.05,0.06,0.07,0.08,0.09,0.1,0.11,0.12,0.13,0.14,0.15,0.16,0.17,0.18,0.19,0.2,0.21,0.22,0.23,0.24,0.25,0.26,0.27,0.28,0.29,0.3,0.31,0.32,0.33,0.34,0.35], "format": ".2f", "labelExpr": "abs(datum.value*20-round(datum.value*20))<0.001 ? datum.label : ''", "tickSize": {"condition": {"test": "abs(datum.value*20-round(datum.value*20))<0.001", "value": -9}, "value": -5}, "labelPadding": 1, "labelOverlap": false, "labelFlush": false, "title": "|t|  (GeV²)", "titlePadding": 23}},
    "y": {"field": "r", "type": "quantitative", "scale": {"domain": [-0.2, 0.3], "nice": false, "zero": false}, "axis": {"orient": "left", "values": [-0.2,-0.18,-0.16,-0.14,-0.12,-0.1,-0.08,-0.06,-0.04,-0.02,0,0.02,0.04,0.06,0.08,0.1,0.12,0.14,0.16,0.18,0.2,0.22,0.24,0.26,0.28,0.3], "format": ".1f", "labelExpr": "abs(datum.value*10-round(datum.value*10))<0.001 ? datum.label : ''", "tickSize": {"condition": {"test": "abs(datum.value*10-round(datum.value*10))<0.001", "value": -9}, "value": -5}, "labelPadding": 6, "labelOverlap": false, "labelFlush": false, "title": "R(t)", "titlePadding": 10}}}},
  {"data": {"name": "fit"}, "transform": [{"filter": "datum.p == 3"}], "mark": {"type": "point", "opacity": 0},
   "encoding": {
    "x": {"field": "t", "type": "quantitative", "scale": {"domain": [0, 0.36], "nice": false, "zero": false}, "axis": {"orient": "top", "values": [0,0.01,0.02,0.03,0.04,0.05,0.06,0.07,0.08,0.09,0.1,0.11,0.12,0.13,0.14,0.15,0.16,0.17,0.18,0.19,0.2,0.21,0.22,0.23,0.24,0.25,0.26,0.27,0.28,0.29,0.3,0.31,0.32,0.33,0.34,0.35], "labels": false, "title": null, "tickSize": {"condition": {"test": "abs(datum.value*20-round(datum.value*20))<0.001", "value": -9}, "value": -5}}},
    "y": {"field": "r", "type": "quantitative", "scale": {"domain": [-0.2, 0.3], "nice": false, "zero": false}, "axis": {"orient": "right", "values": [-0.2,-0.18,-0.16,-0.14,-0.12,-0.1,-0.08,-0.06,-0.04,-0.02,0,0.02,0.04,0.06,0.08,0.1,0.12,0.14,0.16,0.18,0.2,0.22,0.24,0.26,0.28,0.3], "labels": false, "title": null, "tickSize": {"condition": {"test": "abs(datum.value*10-round(datum.value*10))<0.001", "value": -9}, "value": -5}}}}},
  {"data": {"name": "pts"}, "transform": [{"filter": "datum.p == 3"}], "mark": {"type": "errorbar", "clip": true, "ticks": {"size": 6, "thickness": 1.2, "color": "#444444", "clip": true}, "rule": {"color": "#1a1a1a", "strokeWidth": 1.4, "clip": true}},
   "encoding": {"x": {"field": "t", "type": "quantitative", "scale": {"domain": [0, 0.36], "nice": false, "zero": false}, "axis": null}, "y": {"field": "r", "type": "quantitative", "scale": {"domain": [-0.2, 0.3], "nice": false, "zero": false}, "axis": null}, "yError": {"field": "e"}}},
  {"data": {"name": "pts"}, "transform": [{"filter": "datum.p == 3"}], "mark": {"type": "circle", "size": 52, "color": "#000000", "opacity": 1, "clip": true},
   "encoding": {"x": {"field": "t", "type": "quantitative", "scale": {"domain": [0, 0.36], "nice": false, "zero": false}, "axis": null}, "y": {"field": "r", "type": "quantitative", "scale": {"domain": [-0.2, 0.3], "nice": false, "zero": false}, "axis": null}}},
  {"data": {"values": [{}]}, "mark": {"type": "text", "text": "√s̅ =44.7 GeV", "fontSize": 25, "align": "center"}, "encoding": {"x": {"datum": 0.116, "type": "quantitative", "axis": null}, "y": {"datum": 0.249, "type": "quantitative", "axis": null}}},
  {"data": {"values": [{}]}, "mark": {"type": "text", "text": "A=86.6231 mbGeV", "fontSize": 26, "align": "right"}, "encoding": {"x": {"datum": 0.1792, "type": "quantitative", "axis": null}, "y": {"datum": 0.203, "type": "quantitative", "axis": null}}},
  {"data": {"values": [{}]}, "mark": {"type": "text", "text": "-2", "fontSize": 17, "align": "left", "dx": 2, "dy": -11}, "encoding": {"x": {"datum": 0.1792, "type": "quantitative", "axis": null}, "y": {"datum": 0.203, "type": "quantitative", "axis": null}}},
  {"data": {"values": [{}]}, "mark": {"type": "text", "text": "B=12.1569 GeV", "fontSize": 26, "align": "right"}, "encoding": {"x": {"datum": 0.165, "type": "quantitative", "axis": null}, "y": {"datum": 0.157, "type": "quantitative", "axis": null}}},
  {"data": {"values": [{}]}, "mark": {"type": "text", "text": "-2", "fontSize": 17, "align": "left", "dx": 2, "dy": -11}, "encoding": {"x": {"datum": 0.165, "type": "quantitative", "axis": null}, "y": {"datum": 0.157, "type": "quantitative", "axis": null}}}
 ]},
{"width": 687, "height": 427,
 "resolve": {"axis": {"x": "independent", "y": "independent"}},
 "layer": [
  {"data": {"values": [{}]}, "mark": {"type": "rule", "color": "#7f7f7f", "strokeWidth": 1.3}, "encoding": {"y": {"datum": 0, "type": "quantitative", "scale": {"domain": [-0.2, 0.3], "nice": false, "zero": false}, "axis": null}}},
  {"data": {"name": "fit"}, "transform": [{"filter": "datum.p == 4"}], "mark": {"type": "line", "color": "#ff0000", "strokeWidth": 3, "interpolate": "natural", "clip": true},
   "encoding": {
    "x": {"field": "t", "type": "quantitative", "scale": {"domain": [0, 0.36], "nice": false, "zero": false}, "axis": {"orient": "bottom", "values": [0,0.01,0.02,0.03,0.04,0.05,0.06,0.07,0.08,0.09,0.1,0.11,0.12,0.13,0.14,0.15,0.16,0.17,0.18,0.19,0.2,0.21,0.22,0.23,0.24,0.25,0.26,0.27,0.28,0.29,0.3,0.31,0.32,0.33,0.34,0.35], "format": ".2f", "labelExpr": "abs(datum.value*20-round(datum.value*20))<0.001 ? datum.label : ''", "tickSize": {"condition": {"test": "abs(datum.value*20-round(datum.value*20))<0.001", "value": -9}, "value": -5}, "labelPadding": 1, "labelOverlap": false, "labelFlush": false, "title": "|t|  (GeV²)", "titlePadding": 23}},
    "y": {"field": "r", "type": "quantitative", "scale": {"domain": [-0.2, 0.3], "nice": false, "zero": false}, "axis": {"orient": "left", "values": [-0.2,-0.18,-0.16,-0.14,-0.12,-0.1,-0.08,-0.06,-0.04,-0.02,0,0.02,0.04,0.06,0.08,0.1,0.12,0.14,0.16,0.18,0.2,0.22,0.24,0.26,0.28,0.3], "format": ".1f", "labelExpr": "abs(datum.value*10-round(datum.value*10))<0.001 ? datum.label : ''", "tickSize": {"condition": {"test": "abs(datum.value*10-round(datum.value*10))<0.001", "value": -9}, "value": -5}, "labelPadding": 6, "labelOverlap": false, "labelFlush": false, "title": "R(t)", "titlePadding": 10}}}},
  {"data": {"name": "fit"}, "transform": [{"filter": "datum.p == 4"}], "mark": {"type": "point", "opacity": 0},
   "encoding": {
    "x": {"field": "t", "type": "quantitative", "scale": {"domain": [0, 0.36], "nice": false, "zero": false}, "axis": {"orient": "top", "values": [0,0.01,0.02,0.03,0.04,0.05,0.06,0.07,0.08,0.09,0.1,0.11,0.12,0.13,0.14,0.15,0.16,0.17,0.18,0.19,0.2,0.21,0.22,0.23,0.24,0.25,0.26,0.27,0.28,0.29,0.3,0.31,0.32,0.33,0.34,0.35], "labels": false, "title": null, "tickSize": {"condition": {"test": "abs(datum.value*20-round(datum.value*20))<0.001", "value": -9}, "value": -5}}},
    "y": {"field": "r", "type": "quantitative", "scale": {"domain": [-0.2, 0.3], "nice": false, "zero": false}, "axis": {"orient": "right", "values": [-0.2,-0.18,-0.16,-0.14,-0.12,-0.1,-0.08,-0.06,-0.04,-0.02,0,0.02,0.04,0.06,0.08,0.1,0.12,0.14,0.16,0.18,0.2,0.22,0.24,0.26,0.28,0.3], "labels": false, "title": null, "tickSize": {"condition": {"test": "abs(datum.value*10-round(datum.value*10))<0.001", "value": -9}, "value": -5}}}}},
  {"data": {"name": "pts"}, "transform": [{"filter": "datum.p == 4"}], "mark": {"type": "errorbar", "clip": true, "ticks": {"size": 6, "thickness": 1.2, "color": "#444444", "clip": true}, "rule": {"color": "#1a1a1a", "strokeWidth": 1.4, "clip": true}},
   "encoding": {"x": {"field": "t", "type": "quantitative", "scale": {"domain": [0, 0.36], "nice": false, "zero": false}, "axis": null}, "y": {"field": "r", "type": "quantitative", "scale": {"domain": [-0.2, 0.3], "nice": false, "zero": false}, "axis": null}, "yError": {"field": "e"}}},
  {"data": {"name": "pts"}, "transform": [{"filter": "datum.p == 4"}], "mark": {"type": "circle", "size": 52, "color": "#000000", "opacity": 1, "clip": true},
   "encoding": {"x": {"field": "t", "type": "quantitative", "scale": {"domain": [0, 0.36], "nice": false, "zero": false}, "axis": null}, "y": {"field": "r", "type": "quantitative", "scale": {"domain": [-0.2, 0.3], "nice": false, "zero": false}, "axis": null}}},
  {"data": {"values": [{}]}, "mark": {"type": "text", "text": "√s̅ =52.8 GeV", "fontSize": 25, "align": "center"}, "encoding": {"x": {"datum": 0.116, "type": "quantitative", "axis": null}, "y": {"datum": 0.249, "type": "quantitative", "axis": null}}},
  {"data": {"values": [{}]}, "mark": {"type": "text", "text": "A=90.2741 mbGeV", "fontSize": 26, "align": "right"}, "encoding": {"x": {"datum": 0.1792, "type": "quantitative", "axis": null}, "y": {"datum": 0.203, "type": "quantitative", "axis": null}}},
  {"data": {"values": [{}]}, "mark": {"type": "text", "text": "-2", "fontSize": 17, "align": "left", "dx": 2, "dy": -11}, "encoding": {"x": {"datum": 0.1792, "type": "quantitative", "axis": null}, "y": {"datum": 0.203, "type": "quantitative", "axis": null}}},
  {"data": {"values": [{}]}, "mark": {"type": "text", "text": "B=12.1766 GeV", "fontSize": 26, "align": "right"}, "encoding": {"x": {"datum": 0.165, "type": "quantitative", "axis": null}, "y": {"datum": 0.157, "type": "quantitative", "axis": null}}},
  {"data": {"values": [{}]}, "mark": {"type": "text", "text": "-2", "fontSize": 17, "align": "left", "dx": 2, "dy": -11}, "encoding": {"x": {"datum": 0.165, "type": "quantitative", "axis": null}, "y": {"datum": 0.157, "type": "quantitative", "axis": null}}}
 ]},
{"width": 687, "height": 427,
 "resolve": {"axis": {"x": "independent", "y": "independent"}},
 "layer": [
  {"data": {"values": [{}]}, "mark": {"type": "rule", "color": "#7f7f7f", "strokeWidth": 1.3}, "encoding": {"y": {"datum": 0, "type": "quantitative", "scale": {"domain": [-0.2, 0.3], "nice": false, "zero": false}, "axis": null}}},
  {"data": {"name": "fit"}, "transform": [{"filter": "datum.p == 5"}], "mark": {"type": "line", "color": "#ff0000", "strokeWidth": 3, "interpolate": "natural", "clip": true},
   "encoding": {
    "x": {"field": "t", "type": "quantitative", "scale": {"domain": [0, 0.36], "nice": false, "zero": false}, "axis": {"orient": "bottom", "values": [0,0.01,0.02,0.03,0.04,0.05,0.06,0.07,0.08,0.09,0.1,0.11,0.12,0.13,0.14,0.15,0.16,0.17,0.18,0.19,0.2,0.21,0.22,0.23,0.24,0.25,0.26,0.27,0.28,0.29,0.3,0.31,0.32,0.33,0.34,0.35], "format": ".2f", "labelExpr": "abs(datum.value*20-round(datum.value*20))<0.001 ? datum.label : ''", "tickSize": {"condition": {"test": "abs(datum.value*20-round(datum.value*20))<0.001", "value": -9}, "value": -5}, "labelPadding": 1, "labelOverlap": false, "labelFlush": false, "title": "|t|  (GeV²)", "titlePadding": 23}},
    "y": {"field": "r", "type": "quantitative", "scale": {"domain": [-0.2, 0.3], "nice": false, "zero": false}, "axis": {"orient": "left", "values": [-0.2,-0.18,-0.16,-0.14,-0.12,-0.1,-0.08,-0.06,-0.04,-0.02,0,0.02,0.04,0.06,0.08,0.1,0.12,0.14,0.16,0.18,0.2,0.22,0.24,0.26,0.28,0.3], "format": ".1f", "labelExpr": "abs(datum.value*10-round(datum.value*10))<0.001 ? datum.label : ''", "tickSize": {"condition": {"test": "abs(datum.value*10-round(datum.value*10))<0.001", "value": -9}, "value": -5}, "labelPadding": 6, "labelOverlap": false, "labelFlush": false, "title": "R(t)", "titlePadding": 10}}}},
  {"data": {"name": "fit"}, "transform": [{"filter": "datum.p == 5"}], "mark": {"type": "point", "opacity": 0},
   "encoding": {
    "x": {"field": "t", "type": "quantitative", "scale": {"domain": [0, 0.36], "nice": false, "zero": false}, "axis": {"orient": "top", "values": [0,0.01,0.02,0.03,0.04,0.05,0.06,0.07,0.08,0.09,0.1,0.11,0.12,0.13,0.14,0.15,0.16,0.17,0.18,0.19,0.2,0.21,0.22,0.23,0.24,0.25,0.26,0.27,0.28,0.29,0.3,0.31,0.32,0.33,0.34,0.35], "labels": false, "title": null, "tickSize": {"condition": {"test": "abs(datum.value*20-round(datum.value*20))<0.001", "value": -9}, "value": -5}}},
    "y": {"field": "r", "type": "quantitative", "scale": {"domain": [-0.2, 0.3], "nice": false, "zero": false}, "axis": {"orient": "right", "values": [-0.2,-0.18,-0.16,-0.14,-0.12,-0.1,-0.08,-0.06,-0.04,-0.02,0,0.02,0.04,0.06,0.08,0.1,0.12,0.14,0.16,0.18,0.2,0.22,0.24,0.26,0.28,0.3], "labels": false, "title": "R(t)", "titleOpacity": 0, "titleFontSize": 10, "titlePadding": 4, "minExtent": 0, "tickSize": {"condition": {"test": "abs(datum.value*10-round(datum.value*10))<0.001", "value": -9}, "value": -5}}}}},
  {"data": {"name": "pts"}, "transform": [{"filter": "datum.p == 5"}], "mark": {"type": "errorbar", "clip": true, "ticks": {"size": 6, "thickness": 1.2, "color": "#444444", "clip": true}, "rule": {"color": "#1a1a1a", "strokeWidth": 1.4, "clip": true}},
   "encoding": {"x": {"field": "t", "type": "quantitative", "scale": {"domain": [0, 0.36], "nice": false, "zero": false}, "axis": null}, "y": {"field": "r", "type": "quantitative", "scale": {"domain": [-0.2, 0.3], "nice": false, "zero": false}, "axis": null}, "yError": {"field": "e"}}},
  {"data": {"name": "pts"}, "transform": [{"filter": "datum.p == 5"}], "mark": {"type": "circle", "size": 52, "color": "#000000", "opacity": 1, "clip": true},
   "encoding": {"x": {"field": "t", "type": "quantitative", "scale": {"domain": [0, 0.36], "nice": false, "zero": false}, "axis": null}, "y": {"field": "r", "type": "quantitative", "scale": {"domain": [-0.2, 0.3], "nice": false, "zero": false}, "axis": null}}},
  {"data": {"values": [{}]}, "mark": {"type": "text", "text": "√s̅ =62.5 GeV", "fontSize": 25, "align": "center"}, "encoding": {"x": {"datum": 0.116, "type": "quantitative", "axis": null}, "y": {"datum": 0.249, "type": "quantitative", "axis": null}}},
  {"data": {"values": [{}]}, "mark": {"type": "text", "text": "A=94.8747 mbGeV", "fontSize": 26, "align": "right"}, "encoding": {"x": {"datum": 0.1792, "type": "quantitative", "axis": null}, "y": {"datum": 0.203, "type": "quantitative", "axis": null}}},
  {"data": {"values": [{}]}, "mark": {"type": "text", "text": "-2", "fontSize": 17, "align": "left", "dx": 2, "dy": -11}, "encoding": {"x": {"datum": 0.1792, "type": "quantitative", "axis": null}, "y": {"datum": 0.203, "type": "quantitative", "axis": null}}},
  {"data": {"values": [{}]}, "mark": {"type": "text", "text": "B=12.856 GeV", "fontSize": 26, "align": "right"}, "encoding": {"x": {"datum": 0.1611, "type": "quantitative", "axis": null}, "y": {"datum": 0.157, "type": "quantitative", "axis": null}}},
  {"data": {"values": [{}]}, "mark": {"type": "text", "text": "-2", "fontSize": 17, "align": "left", "dx": 2, "dy": -11}, "encoding": {"x": {"datum": 0.1611, "type": "quantitative", "axis": null}, "y": {"datum": 0.157, "type": "quantitative", "axis": null}}}
 ]},
{"width": 687, "height": 427,
 "resolve": {"axis": {"x": "independent", "y": "independent"}},
 "layer": [
  {"data": {"values": [{}]}, "mark": {"type": "rule", "color": "#7f7f7f", "strokeWidth": 1.3}, "encoding": {"y": {"datum": 0, "type": "quantitative", "scale": {"domain": [-0.06, 0.06], "nice": false, "zero": false}, "axis": null}}},
  {"data": {"name": "fit"}, "transform": [{"filter": "datum.p == 6"}], "mark": {"type": "line", "color": "#ff0000", "strokeWidth": 3, "interpolate": "natural", "clip": true},
   "encoding": {
    "x": {"field": "t", "type": "quantitative", "scale": {"domain": [0, 0.36], "nice": false, "zero": false}, "axis": {"orient": "bottom", "values": [0,0.01,0.02,0.03,0.04,0.05,0.06,0.07,0.08,0.09,0.1,0.11,0.12,0.13,0.14,0.15,0.16,0.17,0.18,0.19,0.2,0.21,0.22,0.23,0.24,0.25,0.26,0.27,0.28,0.29,0.3,0.31,0.32,0.33,0.34,0.35], "format": ".2f", "labelExpr": "abs(datum.value*20-round(datum.value*20))<0.001 ? datum.label : ''", "tickSize": {"condition": {"test": "abs(datum.value*20-round(datum.value*20))<0.001", "value": -9}, "value": -5}, "labelPadding": 1, "labelOverlap": false, "labelFlush": false, "title": "|t|  (GeV²)", "titlePadding": 23}},
    "y": {"field": "r", "type": "quantitative", "scale": {"domain": [-0.06, 0.06], "nice": false, "zero": false}, "axis": {"orient": "left", "values": [-0.06,-0.056,-0.052,-0.048,-0.044,-0.04,-0.036,-0.032,-0.028,-0.024,-0.02,-0.016,-0.012,-0.008,-0.004,0,0.004,0.008,0.012,0.016,0.02,0.024,0.028,0.032,0.036,0.04,0.044,0.048,0.052,0.056,0.06], "format": ".2f", "labelExpr": "abs(datum.value*50-round(datum.value*50))<0.001 ? datum.label : ''", "tickSize": {"condition": {"test": "abs(datum.value*50-round(datum.value*50))<0.001", "value": -9}, "value": -5}, "labelPadding": 6, "labelOverlap": false, "labelFlush": false, "title": "R(t)", "titlePadding": 0}}}},
  {"data": {"name": "fit"}, "transform": [{"filter": "datum.p == 6"}], "mark": {"type": "point", "opacity": 0},
   "encoding": {
    "x": {"field": "t", "type": "quantitative", "scale": {"domain": [0, 0.36], "nice": false, "zero": false}, "axis": {"orient": "top", "values": [0,0.01,0.02,0.03,0.04,0.05,0.06,0.07,0.08,0.09,0.1,0.11,0.12,0.13,0.14,0.15,0.16,0.17,0.18,0.19,0.2,0.21,0.22,0.23,0.24,0.25,0.26,0.27,0.28,0.29,0.3,0.31,0.32,0.33,0.34,0.35], "labels": false, "title": null, "tickSize": {"condition": {"test": "abs(datum.value*20-round(datum.value*20))<0.001", "value": -9}, "value": -5}}},
    "y": {"field": "r", "type": "quantitative", "scale": {"domain": [-0.06, 0.06], "nice": false, "zero": false}, "axis": {"orient": "right", "values": [-0.06,-0.056,-0.052,-0.048,-0.044,-0.04,-0.036,-0.032,-0.028,-0.024,-0.02,-0.016,-0.012,-0.008,-0.004,0,0.004,0.008,0.012,0.016,0.02,0.024,0.028,0.032,0.036,0.04,0.044,0.048,0.052,0.056,0.06], "labels": false, "title": null, "tickSize": {"condition": {"test": "abs(datum.value*50-round(datum.value*50))<0.001", "value": -9}, "value": -5}}}}},
  {"data": {"name": "pts"}, "transform": [{"filter": "datum.p == 6"}], "mark": {"type": "errorbar", "clip": true, "ticks": {"size": 6, "thickness": 1.2, "color": "#444444", "clip": true}, "rule": {"color": "#1a1a1a", "strokeWidth": 1.4, "clip": true}},
   "encoding": {"x": {"field": "t", "type": "quantitative", "scale": {"domain": [0, 0.36], "nice": false, "zero": false}, "axis": null}, "y": {"field": "r", "type": "quantitative", "scale": {"domain": [-0.06, 0.06], "nice": false, "zero": false}, "axis": null}, "yError": {"field": "e"}}},
  {"data": {"name": "pts"}, "transform": [{"filter": "datum.p == 6"}], "mark": {"type": "circle", "size": 52, "color": "#000000", "opacity": 1, "clip": true},
   "encoding": {"x": {"field": "t", "type": "quantitative", "scale": {"domain": [0, 0.36], "nice": false, "zero": false}, "axis": null}, "y": {"field": "r", "type": "quantitative", "scale": {"domain": [-0.06, 0.06], "nice": false, "zero": false}, "axis": null}}},
  {"data": {"values": [{}]}, "mark": {"type": "text", "text": "√s̅ =8 TeV", "fontSize": 25, "align": "center"}, "encoding": {"x": {"datum": 0.1, "type": "quantitative", "axis": null}, "y": {"datum": 0.0485, "type": "quantitative", "axis": null}}},
  {"data": {"values": [{}]}, "mark": {"type": "text", "text": "A=527.045 mbGeV", "fontSize": 26, "align": "right"}, "encoding": {"x": {"datum": 0.1596, "type": "quantitative", "axis": null}, "y": {"datum": 0.038, "type": "quantitative", "axis": null}}},
  {"data": {"values": [{}]}, "mark": {"type": "text", "text": "-2", "fontSize": 17, "align": "left", "dx": 2, "dy": -11}, "encoding": {"x": {"datum": 0.1596, "type": "quantitative", "axis": null}, "y": {"datum": 0.038, "type": "quantitative", "axis": null}}},
  {"data": {"values": [{}]}, "mark": {"type": "text", "text": "B=19.388 GeV", "fontSize": 26, "align": "right"}, "encoding": {"x": {"datum": 0.1463, "type": "quantitative", "axis": null}, "y": {"datum": 0.0275, "type": "quantitative", "axis": null}}},
  {"data": {"values": [{}]}, "mark": {"type": "text", "text": "-2", "fontSize": 17, "align": "left", "dx": 2, "dy": -11}, "encoding": {"x": {"datum": 0.1463, "type": "quantitative", "axis": null}, "y": {"datum": 0.0275, "type": "quantitative", "axis": null}}}
 ]}
]
}
